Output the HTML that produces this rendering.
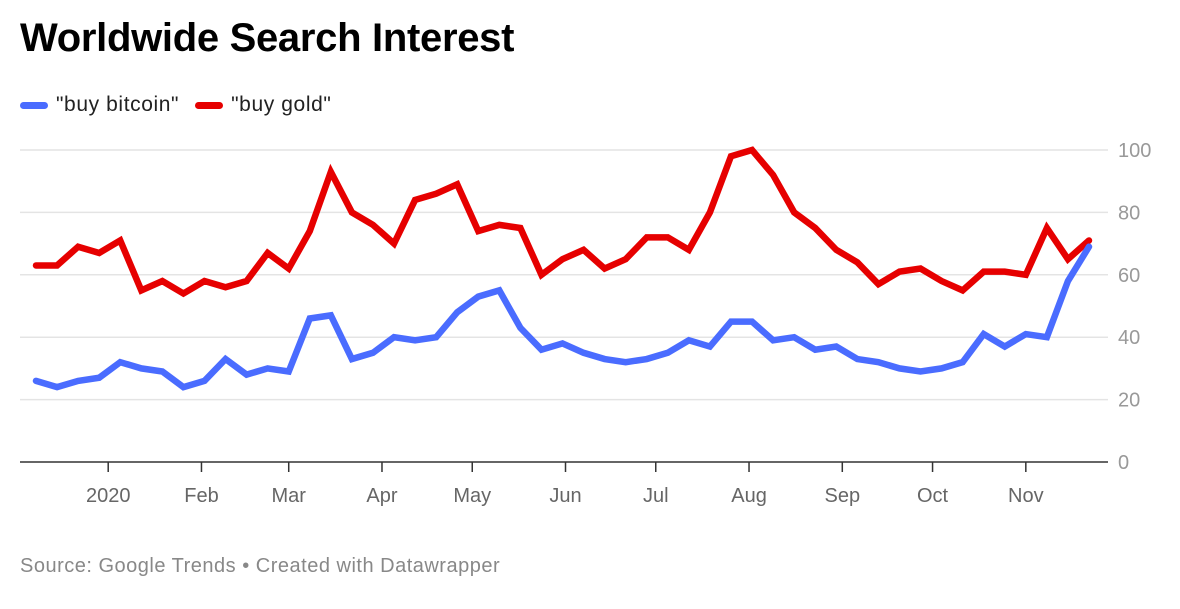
<!DOCTYPE html>
<html><head><meta charset="utf-8"><style>
body{margin:0;background:#fff;width:1180px;height:609px;overflow:hidden;font-family:"Liberation Sans",sans-serif}
h1{position:absolute;left:20px;top:16px;margin:0;font-size:40px;font-weight:bold;color:#000;letter-spacing:-0.3px}
.legend{position:absolute;left:20px;top:93px;font-size:21px;color:#222;display:flex;gap:16px}
.legend span{display:flex;align-items:center;letter-spacing:0.6px}
.legend i{display:inline-block;width:28px;height:7px;border-radius:4px;margin-right:8px}
.src{position:absolute;left:20px;top:555px;font-size:20px;color:#888;letter-spacing:0.5px}
</style></head><body>
<h1>Worldwide Search Interest</h1>
<div class="legend">
<span><i style="background:#4a6cff"></i>"buy bitcoin"</span>
<span><i style="background:#e60000"></i>"buy gold"</span>
</div>
<svg id="chart" width="1180" height="609" style="position:absolute;left:0;top:0"></svg>
<div class="src">Source: Google Trends • Created with Datawrapper</div>
<script>
const bitcoin=[26,24,26,27,32,30,29,24,26,33,28,30,29,46,47,33,35,40,39,40,48,53,55,43,36,38,35,33,32,33,35,39,37,45,45,39,40,36,37,33,32,30,29,30,32,41,37,41,40,58,69];
const gold=[63,63,69,67,71,55,58,54,58,56,58,67,62,74,93,80,76,70,84,86,89,74,76,75,60,65,68,62,65,72,72,68,80,98,100,92,80,75,68,64,57,61,62,58,55,61,61,60,75,65,71];
const yTicks=[0,20,40,60,80,100];
const monthLabels=["2020","Feb","Mar","Apr","May","Jun","Jul","Aug","Sep","Oct","Nov"];
const monthDays=[24,55,84,115,145,176,206,237,268,298,329]; // days from first week
const svg=document.getElementById('chart');
const NS='http://www.w3.org/2000/svg';
const x0=36,dx=21.06;
const xi=i=>x0+i*dx;
const xd=d=>x0+d*dx/7;
const y=v=>462-v*3.12;
function mk(t,a){const e=document.createElementNS(NS,t);for(const k in a)e.setAttribute(k,a[k]);svg.appendChild(e);return e;}
yTicks.forEach(v=>{
  if(v>0){const g=mk('line',{x1:20,x2:1108,y1:y(v),y2:y(v),stroke:'#e4e4e4','stroke-width':1.5});
  
  }
  const t=mk('text',{x:1118,y:y(v)+7,'text-anchor':'start','font-size':20,fill:'#999','font-family':'Liberation Sans, sans-serif'});
  t.textContent=v;
  
  
});
const ax=mk('line',{x1:20,x2:1108,y1:462,y2:462,stroke:'#333','stroke-width':1.5});


monthLabels.forEach((m,i)=>{
  const xx=xd(monthDays[i]);
  const tk=mk('line',{x1:xx,x2:xx,y1:462,y2:472,stroke:'#333','stroke-width':1.5});
  
  
  const t=mk('text',{x:xx,y:502,'text-anchor':'middle','font-size':20,fill:'#666','font-family':'Liberation Sans, sans-serif'});
  t.textContent=m;
  
  
});
function line(data,color,name){
  const p=mk('polyline',{points:data.map((v,i)=>xi(i)+','+y(v)).join(' '),fill:'none',stroke:color,'stroke-width':6.5,'stroke-linejoin':'miter','stroke-linecap':'round'});
  
  
}
line(gold,'#e60000','gold-line');
line(bitcoin,'#4a6cff','bitcoin-line');
</script>
</body></html>
